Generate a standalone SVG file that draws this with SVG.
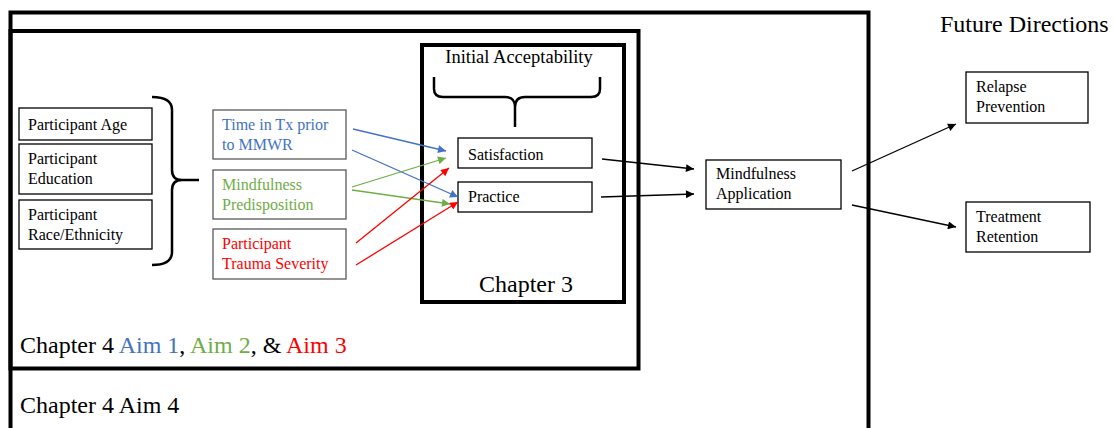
<svg xmlns="http://www.w3.org/2000/svg" width="1115" height="428" viewBox="0 0 1115 428">
<defs>
<style>
.frame{fill:none;stroke:#000;stroke-width:4}
.box{fill:#fff;stroke:#000;stroke-width:1.3}
.gbox{fill:#fff;stroke:#595959;stroke-width:1.3}
.t{font-family:"Liberation Serif","Times New Roman",serif;font-size:16px;fill:#000}
.big{font-family:"Liberation Serif","Times New Roman",serif;font-size:24px;fill:#000}
.brace{fill:none;stroke:#000;stroke-width:2.5}
.blue{fill:#4472C4}
.green{fill:#70AD47}
.red{fill:#FF0000}
.cb{stroke:#4472C4;stroke-width:1.3;fill:none}
.cg{stroke:#70AD47;stroke-width:1.3;fill:none}
.cr{stroke:#FF0000;stroke-width:1.3;fill:none}
.ck{stroke:#000;stroke-width:1.3;fill:none}
</style>
<marker id="ab" viewBox="0 0 10 10" refX="10" refY="5" markerWidth="10" markerHeight="8" markerUnits="userSpaceOnUse" orient="auto"><path d="M0,0 L10,5 L0,10 z" fill="#4472C4"/></marker>
<marker id="ag" viewBox="0 0 10 10" refX="10" refY="5" markerWidth="10" markerHeight="8" markerUnits="userSpaceOnUse" orient="auto"><path d="M0,0 L10,5 L0,10 z" fill="#70AD47"/></marker>
<marker id="ar" viewBox="0 0 10 10" refX="10" refY="5" markerWidth="10" markerHeight="8" markerUnits="userSpaceOnUse" orient="auto"><path d="M0,0 L10,5 L0,10 z" fill="#FF0000"/></marker>
<marker id="ak" viewBox="0 0 10 10" refX="10" refY="5" markerWidth="10" markerHeight="8" markerUnits="userSpaceOnUse" orient="auto"><path d="M0,0 L10,5 L0,10 z" fill="#000"/></marker>
</defs>
<rect width="1115" height="428" fill="#fff"/>

<g id="frame-aim4">
<rect class="frame" x="10.5" y="12.5" width="858" height="430"/>
<text class="big" x="20" y="413">Chapter 4 Aim 4</text>
</g>
<g id="frame-aims123">
<rect class="frame" x="10.5" y="31" width="628" height="337.5" stroke-width="3.5"/>
<text class="big" x="20" y="353">Chapter 4 <tspan class="blue">Aim 1</tspan>, <tspan class="green">Aim 2</tspan>, &amp; <tspan class="red">Aim 3</tspan></text>
</g>
<g id="frame-chapter3">
<rect class="frame" x="422" y="45" width="202" height="257" stroke-width="3.5"/>
<text class="big" x="526" y="292" text-anchor="middle">Chapter 3</text>
<text class="t" x="519" y="63" text-anchor="middle" style="font-size:18.5px">Initial Acceptability</text>
<path class="brace" d="M434,77 L434,89 Q434,97 443,97 L505,97 Q515,97 515,107 L515,127 M515,107 Q515,97 525,97 L591,97 Q600,97 600,89 L600,77"/>
</g>

<g id="participant-age"><rect class="box" x="19" y="108" width="133" height="32"/><text class="t" x="28" y="130">Participant Age</text></g>
<g id="participant-education"><rect class="box" x="19" y="144" width="133" height="50"/><text class="t" x="28" y="164">Participant</text><text class="t" x="28" y="184">Education</text></g>
<g id="participant-race"><rect class="box" x="19" y="200" width="133" height="49"/><text class="t" x="28" y="220">Participant</text><text class="t" x="28" y="240">Race/Ethnicity</text></g>
<g id="demographics-brace"><path class="brace" d="M152,97 Q172,97 172,110 L172,170 Q172,180 182,180 L199,180 M182,180 Q172,180 172,190 L172,252 Q172,265 152,265"/></g>

<g id="time-in-tx"><rect class="gbox" x="213" y="110" width="133" height="49"/><text class="t blue" x="222" y="130">Time in Tx prior</text><text class="t blue" x="222" y="150">to MMWR</text></g>
<g id="mindfulness-predisposition"><rect class="gbox" x="213" y="170" width="133" height="49"/><text class="t green" x="222" y="190">Mindfulness</text><text class="t green" x="222" y="210">Predisposition</text></g>
<g id="trauma-severity"><rect class="gbox" x="213" y="229" width="133" height="50"/><text class="t red" x="222" y="249">Participant</text><text class="t red" x="222" y="269">Trauma Severity</text></g>

<g id="satisfaction"><rect class="box" x="458" y="138" width="134" height="30"/><text class="t" x="468" y="160">Satisfaction</text></g>
<g id="practice"><rect class="box" x="458" y="182" width="134" height="30"/><text class="t" x="468" y="202">Practice</text></g>

<g id="mindfulness-application"><rect class="box" x="706" y="160" width="135" height="49"/><text class="t" x="716" y="179">Mindfulness</text><text class="t" x="716" y="199">Application</text></g>

<g id="future-directions"><text class="big" x="940" y="32">Future Directions</text></g>
<g id="relapse-prevention"><rect class="box" x="966" y="72" width="122" height="51"/><text class="t" x="976" y="92">Relapse</text><text class="t" x="976" y="112">Prevention</text></g>
<g id="treatment-retention"><rect class="box" x="966" y="202" width="124" height="50"/><text class="t" x="976" y="222">Treatment</text><text class="t" x="976" y="242">Retention</text></g>

<g id="connectors">
<line class="cb" x1="353" y1="129" x2="446" y2="151" marker-end="url(#ab)"/>
<line class="cb" x1="352" y1="150" x2="458" y2="197" marker-end="url(#ab)"/>
<line class="cg" x1="352" y1="187" x2="446" y2="158" marker-end="url(#ag)"/>
<line class="cg" x1="352" y1="190" x2="450" y2="204" marker-end="url(#ag)"/>
<line class="cr" x1="356" y1="243" x2="449" y2="168" marker-end="url(#ar)"/>
<line class="cr" x1="356" y1="265" x2="458" y2="202" marker-end="url(#ar)"/>
<line class="ck" x1="602" y1="159" x2="694" y2="169" marker-end="url(#ak)"/>
<line class="ck" x1="601" y1="197" x2="694" y2="194" marker-end="url(#ak)"/>
<line class="ck" x1="852" y1="171" x2="956" y2="124" marker-end="url(#ak)"/>
<line class="ck" x1="852" y1="205" x2="956" y2="227" marker-end="url(#ak)"/>
</g>
</svg>
